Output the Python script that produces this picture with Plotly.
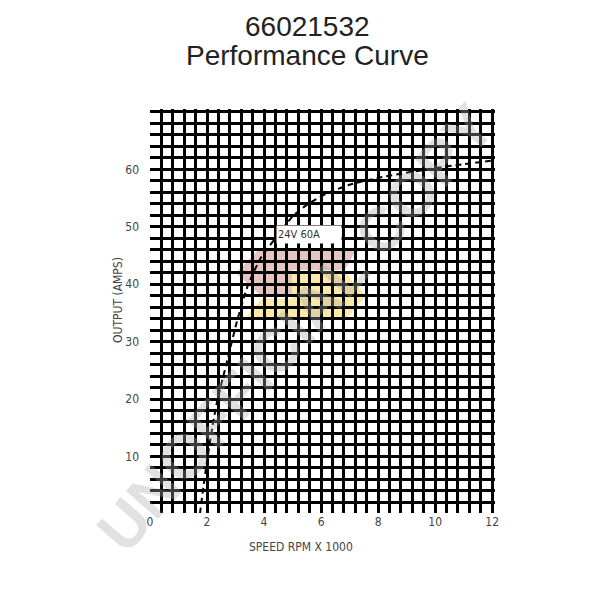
import plotly.graph_objects as go

# Data
speed_krpm = [1.75, 1.95, 2.15, 2.35, 2.7, 3.05, 3.45, 3.9, 4.4, 5.0, 5.5, 6.2, 7.0, 8.0, 9.0, 10.0, 11.0, 12.15]
output_amps = [0, 7.5, 14, 19.5, 26.5, 33.5, 40, 44.7, 48, 51.8, 53.8, 55.8, 57.3, 58.5, 59.4, 60.2, 60.9, 61.6]
x_grid = [round(0.4 * k, 1) for k in range(0, 31)]        # grid every 0.4 (x1000 rpm)
x_labels = ["0", "2", "4", "6", "8", "10", "12"]           # labelled every 2
y_grid = list(range(2, 71, 2))                             # grid every 2 A
y_labels = ["10", "20", "30", "40", "50", "60"]            # labelled every 10
curve_label = "24V 60A"
title_lines = ["66021532", "Performance Curve"]

tick_font = dict(family="Liberation Sans Narrow, DejaVu Sans Condensed, Arial Narrow, sans-serif", size=12, color="#444")

x_text = [str(int(v)) if str(int(v)) in x_labels and abs(v - round(v)) < 1e-9 else "" for v in x_grid]
y_text = [str(v) if str(v) in y_labels else "" for v in y_grid]

# page body has an 8px margin, so the figure is 592x592 placed at (8, 8)
PL, PR, PT, PB = 150, 495, 109, 513   # plot area in page pixels


def px(x, y):
    return (x - PL) / (PR - PL), (PB - y) / (PB - PT)


fig = go.Figure()
fig.add_trace(go.Scatter(
    x=speed_krpm, y=output_amps, mode="lines",
    line=dict(color="black", width=2, dash="6px,4px", shape="spline", smoothing=0.6),
    hoverinfo="skip", showlegend=False,
))

fig.update_layout(
    width=592, height=592,
    margin=dict(l=PL - 8, r=600 - PR, t=PT - 8, b=600 - PB, autoexpand=False),
    paper_bgcolor="white", plot_bgcolor="white",
    xaxis=dict(
        range=[0, 12.1], tickmode="array", tickvals=x_grid, ticktext=x_text,
        showgrid=True, gridcolor="black", gridwidth=3,
        zeroline=False, showline=False, ticks="", tickfont=tick_font,
    ),
    yaxis=dict(
        range=[0.15, 70.5], tickmode="array", tickvals=y_grid, ticktext=y_text,
        showgrid=True, gridcolor="black", gridwidth=3,
        zeroline=False, showline=False, ticks="", tickfont=tick_font, ticklabelstandoff=10,
    ),
)

# Title (two lines)
title_font = dict(family="Liberation Sans, Arial, sans-serif", size=28, color="#222")
for line, yc in zip(title_lines, [26, 55]):
    fx, fy = px(307, yc)
    fig.add_annotation(text=line, xref="paper", yref="paper", x=fx, y=fy,
                       showarrow=False, font=title_font, xanchor="center", yanchor="middle")

# Axis titles
fx, fy = px(301, 547)
fig.add_annotation(text="SPEED RPM X 1000", xref="paper", yref="paper", x=fx, y=fy,
                   showarrow=False, font=tick_font, xanchor="center", yanchor="middle")
fx, fy = px(118, 300)
fig.add_annotation(text="OUTPUT (AMPS)", xref="paper", yref="paper", x=fx, y=fy,
                   showarrow=False, textangle=-90, font=tick_font, xanchor="center", yanchor="middle")

# Curve label
fig.add_annotation(text=curve_label, x=5.58, y=48.6, showarrow=False,
                   bgcolor="white", width=62, height=15, align="left",
                   font=dict(family="Liberation Sans Narrow, DejaVu Sans Condensed, sans-serif", size=11, color="#333"))


# Watermark logo (decorative)
def path(points):
    pts = [px(*p) for p in points]
    return "M " + " L ".join(f"{a:.4f},{b:.4f}" for a, b in pts) + " Z"


fig.add_shape(type="path", xref="paper", yref="paper", layer="below",
              path=path([(236, 273), (260, 248), (357, 248), (345, 270), (292, 270), (292, 297), (262, 297)]),
              fillcolor="rgba(205,150,140,0.55)", line=dict(width=0))
fig.add_shape(type="path", xref="paper", yref="paper", layer="below",
              path=path([(292, 272), (345, 272), (366, 296), (345, 320), (243, 320), (262, 299), (292, 299)]),
              fillcolor="rgba(245,215,90,0.55)", line=dict(width=0))

fx, fy = px(295, 328)
fig.add_annotation(text="<b>UNOFFICIAL COPY</b>", xref="paper", yref="paper",
                   x=fx, y=fy, showarrow=False, textangle=-49,
                   font=dict(family="Liberation Sans, Arial, sans-serif", size=62, color="rgba(170,170,170,0.35)"))

fig.write_html("out.html")
